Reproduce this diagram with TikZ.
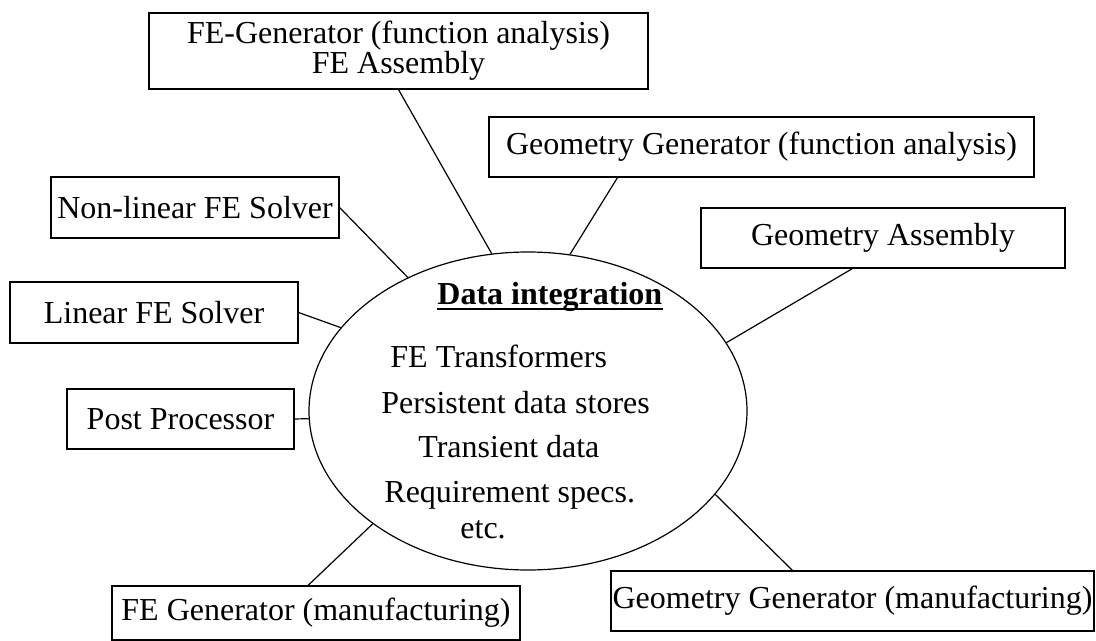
\documentclass[tikz,border=0pt]{standalone}
\usepackage{fontspec}
\setmainfont{Liberation Serif}
\usetikzlibrary{shapes.geometric}

\begin{document}
\begin{tikzpicture}[x=0.5pt,y=-0.5pt,
    box/.style={draw, line width=0.6pt, inner sep=0pt, align=center, font=\fontsize{16}{15}\selectfont},
    txt/.style={anchor=base west, inner sep=0pt, font=\fontsize{16}{15}\selectfont},
    link/.style={line width=0.6pt}]
    \useasboundingbox (0,0) rectangle (1096,641);
    \node[draw, ellipse, line width=0.6pt, inner sep=0pt, minimum width=219pt, minimum height=159pt] (hub) at (528,411) {};
    \node[txt, font=\fontsize{16}{15}\selectfont\bfseries] (di) at (437,305) {Data integration};
    \draw[link] ([yshift=-2pt]di.base west) -- ([yshift=-2pt]di.base east); % underline
    \node[txt] (t1) at (390,367) {FE Transformers};
    \node[txt] (t2) at (381,413) {Persistent data stores};
    \node[txt] (t3) at (418,457) {Transient data};
    \node[txt] (t4) at (384,502) {Requirement specs.};
    \node[txt] (t5) at (460,538) {etc.};
    % boxes
    \node[box, minimum width=249.5pt, minimum height=38pt] (fegen) at (398.5,51) {FE-Generator (function analysis)\\FE Assembly};
    \node[box, minimum width=272.5pt, minimum height=30pt] (geogen) at (761.5,147) {Geometry Generator (function analysis)};
    \node[box, minimum width=182pt, minimum height=30pt] (geoasm) at (883,238) {Geometry Assembly};
    \node[box, minimum width=144pt, minimum height=30.5pt] (nonlin) at (195,207.5) {Non-linear FE Solver};
    \node[box, minimum width=144pt, minimum height=30.5pt] (linsolv) at (154,312.5) {Linear FE Solver};
    \node[box, minimum width=113.5pt, minimum height=30pt] (post) at (180.5,419) {Post Processor};
    \node[box, minimum width=204pt, minimum height=27pt] (femanu) at (316,613) {FE Generator (manufacturing)};
    \node[box, minimum width=241.5pt, minimum height=30pt] (geomanu) at (852.5,601) {Geometry Generator (manufacturing)};
    % links
    \draw[link] (fegen.south) -- (hub.103);
    \draw[link] (geogen.192.5) -- (hub.75.4);
    \draw[link] (geoasm.225) -- (hub.19.6);
    \draw[link] (nonlin.east) -- (hub.132.5);
    \draw[link] (linsolv.east) -- (hub.156.4);
    \draw[link] (post.east) -- (hub.182);
    \draw[link] (femanu.106) -- (hub.216.2);
    \draw[link] (geomanu.153) -- (hub.336.5);
\end{tikzpicture}
\end{document}
